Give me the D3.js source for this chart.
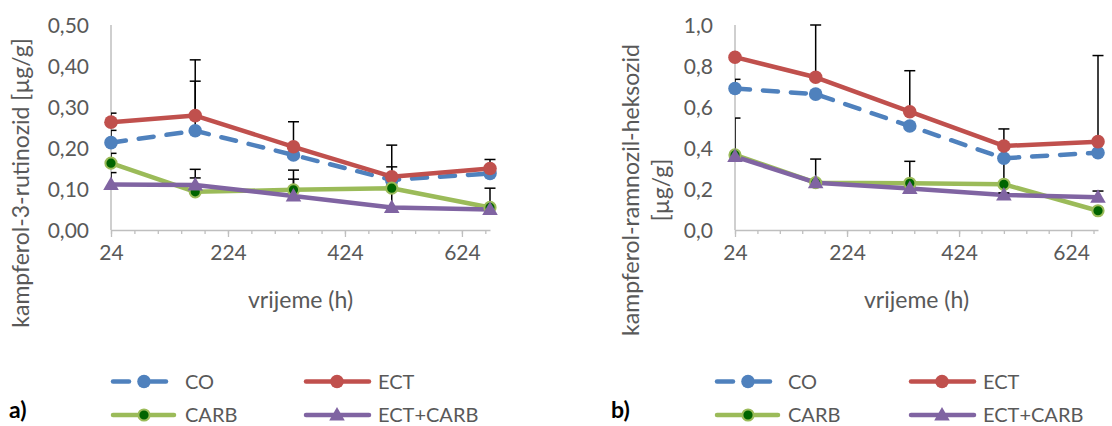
<!DOCTYPE html>
<html><head><meta charset="utf-8">
<script src="https://cdn.jsdelivr.net/npm/d3@7"></script>
<style>
html,body{margin:0;padding:0;background:#fff;}
svg{display:block;font-family:Lato,"Open Sans",sans-serif;}
</style></head>
<body>
<svg id="chart" width="1112" height="426"></svg>
<script>
// ---- data ----
const hours = [24, 168, 336, 504, 672];
const seriesNames = ["CO", "ECT", "CARB", "ECT+CARB"];
const xTickLabels = [24, 224, 424, 624];
const yTicksA = [0, 0.1, 0.2, 0.3, 0.4, 0.5];
const yTicksB = [0, 0.2, 0.4, 0.6, 0.8, 1.0];

// chart a) kampferol-3-rutinozid
const coA = [0.213, 0.242, 0.183, 0.122, 0.138];
const ectA = [0.263, 0.279, 0.203, 0.130, 0.150];
const carbA = [0.163, 0.093, 0.098, 0.102, 0.055];
const ectCarbA = [0.111, 0.110, 0.083, 0.055, 0.050];
const coAErr = [0.030, 0.121, 0.015, 0.032, 0.010];
const ectAErr = [0.022, 0.136, 0.061, 0.077, 0.022];
const carbAErr = [0.024, 0.055, 0.048, 0.010, 0.047];
const ectCarbAErr = [0.029, 0.017, 0.041, 0.045, 0.010];

// chart b) kampferol-ramnozil-heksozid
const coB = [0.690, 0.663, 0.507, 0.350, 0.377];
const ectB = [0.843, 0.745, 0.577, 0.410, 0.431];
const carbB = [0.366, 0.231, 0.228, 0.223, 0.094];
const ectCarbB = [0.358, 0.231, 0.203, 0.171, 0.160];
const coBErr = [0.045, 0.010, 0.010, 0.060, 0.010];
const ectBErr = [0.010, 0.255, 0.200, 0.083, 0.420];
const carbBErr = [0.180, 0.115, 0.107, 0.120, 0.010];
const ectCarbBErr = [0.010, 0.010, 0.010, 0.010, 0.030];

// ---- styles ----
const styles = {
  "CO": {color: "#4f81bd", dash: "15,13", marker: "circle"},
  "ECT": {color: "#c0504d", dash: null, marker: "circle"},
  "CARB": {color: "#9bbb59", dash: null, marker: "greenDot"},
  "ECT+CARB": {color: "#8064a2", dash: null, marker: "triangle"}
};
const textColor = "#595959";
const axisColor = "#bfbfbf";

const svg = d3.select("#chart");

function drawMarker(g, type, color, x, y) {
  if (type === "circle") {
    g.append("circle").attr("cx", x).attr("cy", y).attr("r", 6.8).attr("fill", color);
  } else if (type === "greenDot") {
    g.append("circle").attr("cx", x).attr("cy", y).attr("r", 5.6)
      .attr("fill", "#006400").attr("stroke", color).attr("stroke-width", 2);
  } else {
    g.append("path").attr("d", d3.symbol(d3.symbolTriangle, 105)())
      .attr("transform", `translate(${x},${y + 1})`).attr("fill", color);
  }
}

function drawChart(cfg) {
  const g = svg.append("g");
  const x = d3.scaleLinear().domain([24, 672]).range([cfg.x0, cfg.x1]);
  const y = d3.scaleLinear().domain([0, cfg.yMax]).range([230, 25]);

  const clipId = "clip" + cfg.id;
  svg.append("defs").append("clipPath").attr("id", clipId)
    .append("rect").attr("x", cfg.x0).attr("y", 24).attr("width", cfg.x1 - cfg.x0 + 12).attr("height", 210);

  g.append("line").attr("x1", cfg.x0).attr("x2", cfg.x0).attr("y1", y(cfg.yMax)).attr("y2", y(0))
    .attr("stroke", axisColor).attr("stroke-width", 1.5);
  g.selectAll(".ylab").data(cfg.yTicks).enter().append("text")
    .attr("x", cfg.x0 - 22).attr("y", d => y(d)).attr("dy", "0.36em")
    .attr("text-anchor", "end").attr("fill", textColor).attr("font-size", 21)
    .text(d => d3.format(cfg.fmt)(d).replace(".", ","));

  const minorTicks = d3.range(24, 672, 40);
  const xAxis = d3.axisBottom(x).tickValues(minorTicks).tickSize(4).tickFormat("").tickSizeOuter(0);
  const ax = g.append("g").attr("transform", "translate(0,230)").call(xAxis);
  ax.select(".domain").attr("stroke", axisColor).attr("stroke-width", 1.5);
  ax.selectAll(".tick line").attr("stroke", axisColor).attr("stroke-width", 1.3);
  const xAxisMaj = d3.axisBottom(x).tickValues(xTickLabels).tickSize(7).tickPadding(12).tickSizeOuter(0);
  const axm = g.append("g").attr("transform", "translate(0,230)").call(xAxisMaj);
  axm.select(".domain").remove();
  axm.selectAll(".tick line").attr("stroke", axisColor).attr("stroke-width", 1.3);
  axm.selectAll(".tick text").attr("fill", textColor).attr("font-size", 21)
    .attr("font-family", "Lato, 'Open Sans', sans-serif").attr("dy", "0.5em");

  g.append("text").attr("x", (cfg.x0 + cfg.x1) / 2).attr("y", 300).attr("dy", "0.35em")
    .attr("text-anchor", "middle").attr("fill", textColor).attr("font-size", 23).text("vrijeme (h)");
  cfg.yTitle.forEach((t, i) => {
    g.append("text").attr("transform", `translate(${cfg.yTitleX[i]},${cfg.yTitleY}) rotate(-90)`)
      .attr("dy", "0.35em").attr("text-anchor", "middle").attr("fill", textColor)
      .attr("font-size", 23).text(t);
  });

  const line = d3.line().x((d, i) => x(hours[i])).y(d => y(d));
  cfg.series.forEach(s => {
    const st = styles[s.name];
    g.append("path").datum(s.values).attr("d", line).attr("fill", "none")
      .attr("stroke", st.color).attr("stroke-width", 4.5)
      .attr("stroke-linecap", "round").attr("stroke-linejoin", "round")
      .attr("stroke-dasharray", st.dash);
  });
  const eg = g.append("g").attr("clip-path", `url(#${clipId})`);
  cfg.series.forEach(s => {
    s.values.forEach((v, i) => {
      const xi = x(hours[i]);
      const top = y(Math.min(v + s.err[i], cfg.yMax));
      eg.append("line").attr("x1", xi).attr("x2", xi).attr("y1", y(v)).attr("y2", top)
        .attr("stroke", "#000").attr("stroke-width", 1.5);
      eg.append("line").attr("x1", xi - 5.5).attr("x2", xi + 5.5).attr("y1", top).attr("y2", top)
        .attr("stroke", "#000").attr("stroke-width", 1.5);
    });
  });
  cfg.series.forEach(s => {
    const st = styles[s.name];
    s.values.forEach((v, i) => drawMarker(g, st.marker, st.color, x(hours[i]), y(v)));
  });

  const lg = svg.append("g");
  const rows = [381.5, 415];
  cfg.series.forEach((s, k) => {
    const st = styles[s.name];
    const col = k % 2, row = Math.floor(k / 2);
    const lx0 = cfg.legX[col], ly = rows[row];
    const len = (s.name === "CARB") ? 65 : (col === 0 ? 57 : 67);
    if (st.dash) {
      lg.append("line").attr("x1", lx0 + 2).attr("x2", lx0 + 18).attr("y1", ly).attr("y2", ly)
        .attr("stroke", st.color).attr("stroke-width", 4.5).attr("stroke-linecap", "round");
      lg.append("line").attr("x1", lx0 + 40).attr("x2", lx0 + len - 2).attr("y1", ly).attr("y2", ly)
        .attr("stroke", st.color).attr("stroke-width", 4.5).attr("stroke-linecap", "round");
    } else {
      lg.append("line").attr("x1", lx0 + 2).attr("x2", lx0 + len - 2).attr("y1", ly).attr("y2", ly)
        .attr("stroke", st.color).attr("stroke-width", 4.5).attr("stroke-linecap", "round");
    }
    drawMarker(lg, st.marker, st.color, lx0 + 33, ly);
    lg.append("text").attr("x", cfg.legT[col]).attr("y", ly).attr("dy", "0.36em")
      .attr("fill", textColor).attr("font-size", 20).text(s.name);
  });
  svg.append("text").attr("x", cfg.labX).attr("y", 410).attr("dy", "0.36em")
    .attr("font-weight", "bold").attr("font-size", 23).attr("fill", "#000").text(cfg.label);
}

drawChart({
  id: "a", x0: 111, x1: 490, yMax: 0.5, yTicks: yTicksA, fmt: ".2f",
  yTitle: ["kampferol-3-rutinozid [µg/g]"], yTitleX: [21], yTitleY: 183,
  series: [
    {name: "CO", values: coA, err: coAErr},
    {name: "ECT", values: ectA, err: ectAErr},
    {name: "CARB", values: carbA, err: carbAErr},
    {name: "ECT+CARB", values: ectCarbA, err: ectCarbAErr}
  ],
  legX: [111, 304], legT: [185, 378], labX: 9, label: "a)"
});
drawChart({
  id: "b", x0: 735, x1: 1098, yMax: 1.0, yTicks: yTicksB, fmt: ".1f",
  yTitle: ["kampferol-ramnozil-heksozid", "[µg/g]"], yTitleX: [631, 661], yTitleY: 190,
  series: [
    {name: "CO", values: coB, err: coBErr},
    {name: "ECT", values: ectB, err: ectBErr},
    {name: "CARB", values: carbB, err: carbBErr},
    {name: "ECT+CARB", values: ectCarbB, err: ectCarbBErr}
  ],
  legX: [715, 909], legT: [788, 983], labX: 611, label: "b)"
});
</script>
</body></html>
